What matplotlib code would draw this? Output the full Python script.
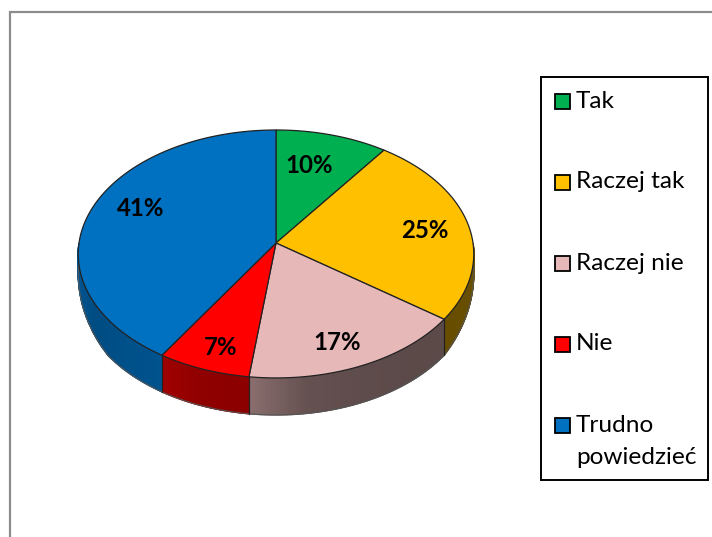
import numpy as np
import matplotlib
matplotlib.use("Agg")
import matplotlib.pyplot as plt
from matplotlib.patches import Polygon, Rectangle

plt.rcParams['font.family'] = ['Lato', 'DejaVu Sans']

categories = ['Tak', 'Raczej tak', 'Raczej nie', 'Nie', 'Trudno\npowiedzieć']
values = [10, 25, 17, 7, 41]
colors = ['#00B050', '#FFC000', '#E6B8B7', '#FF0000', '#0070C0']
# how dark the outer wall gets, start to end of each slice's wall
wall_shades = [[0.5, 0.5], [0.42, 0.40], [0.40, 0.40, 0.41, 0.44, 0.60], [0.55, 0.56, 0.63], [0.74, 0.68, 0.80]]

# perspective pie in pixel space
cx, cy = 276, 243
rx, ry = 197, 123
persp = 0.0885


def rim(theta):
    """theta in degrees, clockwise from the top"""
    t = np.radians(theta)
    u, v = np.sin(t), np.cos(t)
    w = 1 + persp * v
    return cx + rx * u / w, cy - ry * v / w


def wall_depth(theta):
    # the lower rim is tighter than the top one, so the wall thins out at the sides
    v = -np.cos(np.radians(theta))
    return np.interp(v, [0, 0.39, 0.59, 1], [16, 29, 36, 37])


fig = plt.figure(figsize=(7.12, 5.37), dpi=100)
ax = fig.add_axes([0, 0, 1, 1])
ax.set_xlim(0, 712)
ax.set_ylim(537, 0)
ax.axis('off')

# outer chart frame, cut by the picture edge
ax.plot([10, 10, 712], [537, 12, 12], color='#8c8c8c', lw=1.6, solid_joinstyle='miter')

edges = np.cumsum([0] + values) * 3.6

# side walls first, only the part facing us
for i in range(len(values)):
    a = max(edges[i], 90)
    b = min(edges[i + 1], 270)
    if a >= b:
        continue
    th = np.linspace(a, b, 90)
    x, y = rim(th)
    d = wall_depth(th)
    shades = wall_shades[i]
    pos = np.linspace(0, 1, len(shades))
    rgb = np.array(matplotlib.colors.to_rgb(colors[i]))
    for j in range(len(th) - 1):
        frac = (j + 0.5) / (len(th) - 1)
        s = np.interp(frac, pos, shades)
        quad = [(x[j], y[j]), (x[j + 1], y[j + 1]), (x[j + 1], y[j + 1] + d[j + 1]), (x[j], y[j] + d[j])]
        ax.add_patch(Polygon(quad, closed=True, fc=rgb * s, ec=rgb * s, lw=1.0, zorder=2))
    ax.plot(x, y + d, color='#555555', lw=0.8, zorder=3)
    for k in (0, -1):
        if th[k] not in (90, 270):
            ax.plot([x[k], x[k]], [y[k], y[k] + d[k]], color='#222222', lw=0.8, zorder=3)

# top faces
for i in range(len(values)):
    th = np.linspace(edges[i], edges[i + 1], 150)
    x, y = rim(th)
    pts = [(cx, cy)] + list(zip(x, y))
    ax.add_patch(Polygon(pts, closed=True, fc=colors[i], ec='#222222', lw=0.9, joinstyle='round', zorder=4))

# percent labels
label_pos = [(309, 165.5), (425, 230.5), (337, 342.5), (221, 347.5), (141, 208.5)]
for v, (lx, ly) in zip(values, label_pos):
    ax.text(lx, ly, f'{v}%', ha='center', va='center', fontsize=17.3, fontweight='bold', color='black', zorder=6)

# legend
ax.add_patch(Rectangle((541, 77), 167, 403, fc='white', ec='black', lw=1.4, zorder=5))
for i, name in enumerate(categories):
    row = 101 + i * 81
    ax.add_patch(Rectangle((554.5, row - 7.5), 15, 15, fc=colors[i], ec='black', lw=1.3, zorder=6))
    ax.text(576, row - 10.5, name, ha='left', va='top', fontsize=17.6, color='black', linespacing=1.68, zorder=6)

fig.savefig('out.png', dpi=100)
